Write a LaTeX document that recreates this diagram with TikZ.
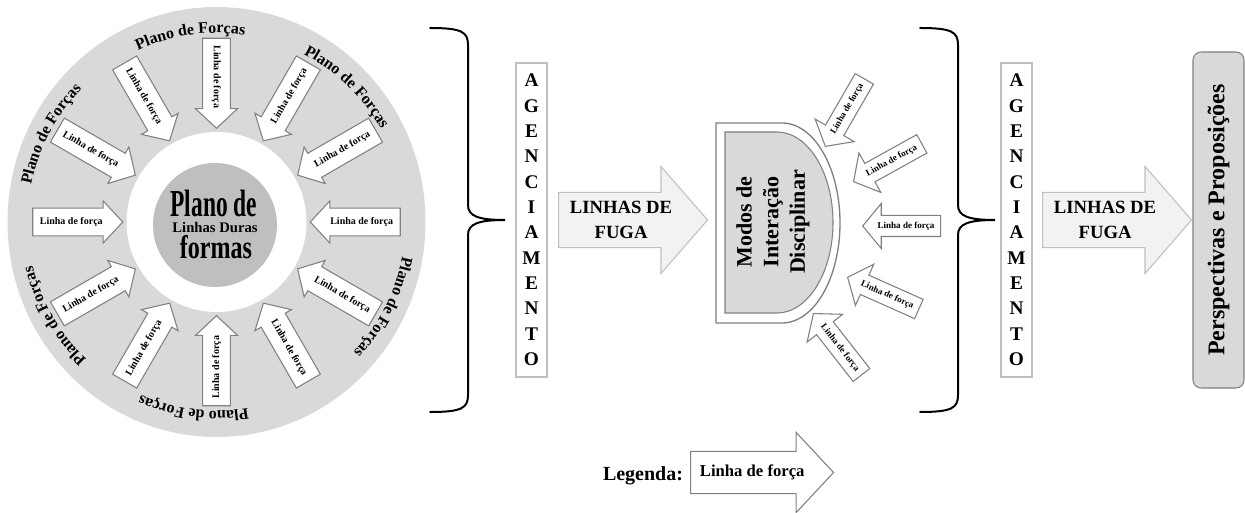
\documentclass[tikz,border=0pt]{standalone}
\usepackage{fontspec}
\setmainfont{Liberation Serif}
\usepackage{graphicx}
\usepackage{tikz}
\usetikzlibrary{shapes.arrows}
\usetikzlibrary{decorations.text}

\definecolor{discgray}{HTML}{D9D9D9}
\definecolor{coregray}{HTML}{BFBFBF}
\definecolor{edgegray}{HTML}{808080}
\definecolor{lightedge}{HTML}{C0C0C0}
\definecolor{fugafill}{HTML}{F2F2F2}

\tikzset{
    forca/.style={single arrow, draw=edgegray, fill=white, line width=0.8pt,
        font=\bfseries\fontsize{7.5}{9}\selectfont, text height=5.5pt, text depth=1.5pt,
        inner xsep=1pt, inner ysep=6.5pt, single arrow head extend=5.4pt,
        single arrow tip angle=94, minimum height=67.5pt, anchor=tip},
    forcasm/.style={forca, font=\bfseries\fontsize{6.8}{8}\selectfont, text height=5pt,
        text depth=1.4pt, inner ysep=4.3pt, single arrow head extend=9pt,
        single arrow tip angle=101, minimum height=58.5pt},
    fuga/.style={single arrow, draw=lightedge, fill=fugafill, line width=0.8pt, align=center,
        font=\bfseries\fontsize{14}{18.75}\selectfont, inner ysep=6.2pt,
        single arrow head extend=19.5pt, single arrow tip angle=98,
        minimum height=111.75pt, anchor=tail},
    agbox/.style={draw=lightedge, fill=white, line width=0.8pt, align=center,
        font=\bfseries\fontsize{14.5}{19}\selectfont, minimum width=23.25pt, minimum height=235.5pt},
    planoforcas/.style={decorate, decoration={text along path, text align=center,
        text={|\bfseries\fontsize{12}{14}\selectfont|Plano de Forças}}},
    forma/.style={font=\bfseries\fontsize{22}{22}\selectfont, inner sep=0pt, anchor=base},
    chave/.style={line width=1.5pt, line cap=round}
}

\begin{document}
\begin{tikzpicture}[x=0.75pt, y=0.75pt]
        \useasboundingbox (0,0) rectangle (1245,-513);

            \fill[discgray] (216.5,-222) ellipse [x radius=209, y radius=215];
            \fill[white] (216.5,-222) circle [radius=90];
            \node[circle, fill=coregray, minimum size=93pt] (core) at (215,-225) {};
            \node[forma] (planode) at (214,-217) {\scalebox{0.8}[1.3]{Plano de}};
            \node[font=\bfseries\fontsize{11}{13}\selectfont, inner sep=0pt, anchor=base] (duras) at (215,-232.5) {Linhas Duras};
            \node[forma] (formas) at (216,-258) {\scalebox{0.82}[1.12]{formas}};

        \begin{scope}[shift={(216.5,-222)}]
            \node[forca, rotate=0, shape border rotate=180] (f0) at (0:93) {Linha de força};
            \node[forca, rotate=30, shape border rotate=180] (f30) at (30:93) {Linha de força};
            \node[forca, rotate=60, shape border rotate=180] (f60) at (60:93) {Linha de força};
            \node[forca, rotate=-90, shape border rotate=0] (f90) at (90:93) {Linha de força};
            \node[forca, rotate=-60, shape border rotate=0] (f120) at (120:93) {Linha de força};
            \node[forca, rotate=-30, shape border rotate=0] (f150) at (150:93) {Linha de força};
            \node[forca, rotate=0, shape border rotate=0] (f180) at (180:93) {Linha de força};
            \node[forca, rotate=30, shape border rotate=0] (f210) at (210:93) {Linha de força};
            \node[forca, rotate=60, shape border rotate=0] (f240) at (240:93) {Linha de força};
            \node[forca, rotate=90, shape border rotate=0] (f270) at (270:93) {Linha de força};
            \node[forca, rotate=-60, shape border rotate=180] (f300) at (300:93) {Linha de força};
            \node[forca, rotate=-30, shape border rotate=180] (f330) at (330:93) {Linha de força};

            \path[planoforcas] (126:189) arc [start angle=126, end angle=70, radius=189];
            \path[planoforcas] (74:189) arc [start angle=74, end angle=18, radius=189];
            \path[planoforcas] (180:189) arc [start angle=180, end angle=124, radius=189];
            \path[planoforcas] (238:189) arc [start angle=238, end angle=182, radius=189];
            \path[planoforcas] (291:189) arc [start angle=291, end angle=235, radius=189];
            \path[planoforcas] (361:189) arc [start angle=361, end angle=305, radius=189];
        \end{scope}

            \draw[chave] (430,-28) .. controls (462,-28) and (468,-32) .. (468,-45) -- (468,-205)
                .. controls (468,-216) and (478,-220) .. (505,-220)
                .. controls (478,-220) and (468,-224) .. (468,-235) -- (468,-395)
                .. controls (468,-408) and (462,-412) .. (430,-412);
            \draw[chave, shift={(490,0)}] (430,-28) .. controls (462,-28) and (468,-32) .. (468,-45) -- (468,-205)
                .. controls (468,-216) and (478,-220) .. (505,-220)
                .. controls (478,-220) and (468,-224) .. (468,-235) -- (468,-395)
                .. controls (468,-408) and (462,-412) .. (430,-412);

            \node[agbox] (ag1) at (531.5,-220) {A\\G\\E\\N\\C\\I\\A\\M\\E\\N\\T\\O};
            \node[agbox] (ag2) at (1016.5,-220) {A\\G\\E\\N\\C\\I\\A\\M\\E\\N\\T\\O};

            \node[fuga] (fuga1) at (558,-220) {LINHAS DE\\FUGA};
            \node[fuga] (fuga2) at (1042,-220) {LINHAS DE\\FUGA};

            \draw[edgegray, fill=white, line width=1pt] (716,-123) -- (782,-123)
                arc [start angle=90, end angle=-90, x radius=58, y radius=100] -- (716,-323) -- cycle;
            \draw[edgegray, fill=discgray, line width=0.8pt] (725,-132) -- (777,-132)
                arc [start angle=90, end angle=-90, x radius=56, y radius=90.5] -- (725,-313) -- cycle;
            \node[rotate=90, align=center, font=\bfseries\fontsize{16.5}{20}\selectfont] (modos) at (773,-222) {Modos de\\Interação\\Disciplinar};

            \node[forcasm, rotate=60, shape border rotate=180] (g1) at (825,-147) {Linha de força};
            \node[forcasm, rotate=29, shape border rotate=180] (g2) at (853,-182) {Linha de força};
            \node[forcasm, rotate=0, shape border rotate=180] (g3) at (862,-226) {Linha de força};
            \node[forcasm, rotate=-24, shape border rotate=180] (g4) at (847,-277) {Linha de força};
            \node[forcasm, rotate=-52, shape border rotate=180] (g5) at (813,-313) {Linha de força};

            \node[draw=edgegray, fill=discgray, rounded corners=6pt, line width=0.8pt, rotate=90,
                minimum width=252pt, minimum height=38.25pt, font=\bfseries\fontsize{18}{20}\selectfont] (persp) at (1218.5,-220) {Perspectivas e Proposições};

            \node[font=\bfseries\fontsize{15}{18}\selectfont] (legenda) at (643,-476) {Legenda:};
            \node[single arrow, draw=edgegray, fill=white, line width=0.8pt, font=\bfseries\fontsize{12.5}{15}\selectfont,
                text height=8.7pt, text depth=2.7pt, inner ysep=9.7pt, single arrow head extend=14.25pt,
                single arrow tip angle=94, minimum height=107.25pt, anchor=tail] (legarrow) at (690,-472.5) {Linha de força};

\end{tikzpicture}
\end{document}
